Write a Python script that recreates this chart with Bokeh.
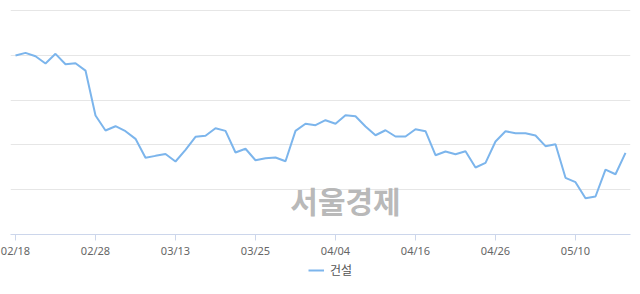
from bokeh.plotting import figure
from bokeh.models import FixedTicker, Legend, LegendItem, Label, Range1d
from bokeh.layouts import column
from bokeh.embed import file_html
from bokeh.resources import INLINE

# ---- data ----
dates = ["02/18", "02/19", "02/20", "02/21", "02/22", "02/25", "02/26", "02/27",
         "02/28", "03/04", "03/05", "03/06", "03/07", "03/08", "03/11", "03/12",
         "03/13", "03/14", "03/15", "03/18", "03/19", "03/20", "03/21", "03/22",
         "03/25", "03/26", "03/27", "03/28", "03/29", "04/01", "04/02", "04/03",
         "04/04", "04/05", "04/08", "04/09", "04/10", "04/11", "04/12", "04/15",
         "04/16", "04/17", "04/18", "04/19", "04/22", "04/23", "04/24", "04/25",
         "04/26", "04/29", "04/30", "05/02", "05/03", "05/07", "05/08", "05/09",
         "05/10", "05/13", "05/14", "05/15", "05/16", "05/17"]
values = [119.98, 120.28, 119.90, 119.09, 120.17, 119.01, 119.12, 118.30,
          113.28, 111.61, 112.09, 111.53, 110.68, 108.56, 108.78, 108.98,
          108.15, 109.45, 110.90, 111.02, 111.86, 111.57, 109.15, 109.57,
          108.29, 108.52, 108.59, 108.18, 111.57, 112.36, 112.20, 112.76,
          112.36, 113.32, 113.20, 112.05, 111.08, 111.64, 110.94, 110.94,
          111.75, 111.53, 108.85, 109.26, 108.96, 109.30, 107.48, 108.00,
          110.38, 111.53, 111.31, 111.31, 111.05, 109.86, 110.08, 106.33,
          105.84, 104.05, 104.24, 107.25, 106.73, 109.12]
series_name = "건설"
label_step = 8
y_grid = [105, 110, 115, 120, 125]

LINE_COLOR = "#7cb5ec"

idx = list(range(len(values)))
tick_idx = [i for i in idx if i % label_step == 0 and i < len(idx) - 2]

p = figure(width=640, height=261, output_backend="svg", toolbar_location=None,
           x_range=(-0.5, len(values) - 0.5), y_range=(100, 125.12),
           y_axis_location=None,
           min_border_left=10, min_border_right=10, min_border_top=9,
           min_border_bottom=27)
p.outline_line_color = None
p.border_fill_color = "white"

r = p.line(idx, values, line_color=LINE_COLOR, line_width=2)

xa = p.xaxis[0]
xa.ticker = FixedTicker(ticks=tick_idx)
xa.major_label_overrides = {i: dates[i] for i in tick_idx}
xa.axis_line_color = "#ccd6eb"
xa.major_tick_line_color = "#ccd6eb"
xa.major_tick_out = 6
xa.major_tick_in = 0
xa.minor_tick_line_color = None
xa.major_label_standoff = 2
xa.major_label_text_font = "Noto Sans"
xa.major_label_text_font_size = "11px"
xa.major_label_text_color = "#666666"

p.xgrid.visible = False
p.ygrid[0].ticker = FixedTicker(ticks=y_grid)
p.ygrid.grid_line_color = "#e6e6e6"
p.ygrid.grid_line_width = 1

wm = Label(x=335, y=35, x_units="screen", y_units="screen", text="서울경제",
           text_font="Noto Sans CJK KR", text_font_style="bold",
           text_font_size="30px", text_color="#b0b0b0", text_alpha=0.9,
           text_align="center", text_baseline="middle")
p.add_layout(wm)

# legend strip below the chart (its line sits outside the visible range)
p2 = figure(width=640, height=33, output_backend="svg", toolbar_location=None,
            x_range=Range1d(0, 1), y_range=Range1d(0, 1),
            x_axis_location=None, y_axis_location=None,
            min_border=0)
p2.outline_line_color = None
p2.grid.visible = False
p2.border_fill_color = "white"
r2 = p2.line(x=[-5, -4], y=[-5, -5], line_color=LINE_COLOR, line_width=2)
legend = Legend(items=[LegendItem(label=series_name, renderers=[r2])],
                orientation="horizontal", location=(298, 16),
                label_text_font="Noto Sans CJK KR", label_text_font_size="12px",
                label_text_color="#555555", glyph_width=16, glyph_height=14,
                label_height=14, padding=2, margin=0, border_line_color=None,
                background_fill_alpha=0, label_standoff=6, spacing=0)
p2.add_layout(legend)

open("out.html", "w").write(file_html(column(p, p2, spacing=0), INLINE))
